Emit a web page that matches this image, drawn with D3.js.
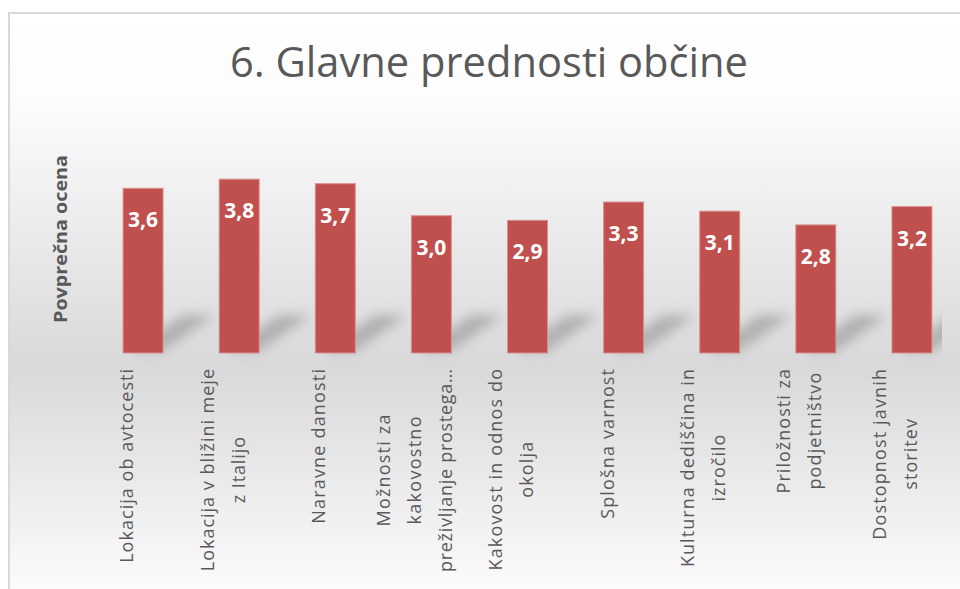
<!DOCTYPE html>
<html>
<head>
<meta charset="utf-8">
<script src="https://cdn.jsdelivr.net/npm/d3@7"></script>
<style>
  html, body { margin: 0; padding: 0; background: #ffffff; }
  svg { display: block; }
</style>
</head>
<body>
<svg id="chart" width="960" height="589"></svg>
<script>
const title = "6. Glavne prednosti občine";
const yAxisTitle = "Povprečna ocena";
const categories = [
  ["Lokacija ob avtocesti"],
  ["Lokacija v bližini meje", "z Italijo"],
  ["Naravne danosti"],
  ["Možnosti za", "kakovostno", "preživljanje prostega…"],
  ["Kakovost in odnos do", "okolja"],
  ["Splošna varnost"],
  ["Kulturna dediščina in", "izročilo"],
  ["Priložnosti  za", "podjetništvo"],
  ["Dostopnost javnih", "storitev"]
];
const values = [3.6, 3.8, 3.7, 3.0, 2.9, 3.3, 3.1, 2.8, 3.2];
const yDomain = [0, 4];

const W = 960, H = 589;
const svg = d3.select("#chart");
const defs = svg.append("defs");

const grad = defs.append("linearGradient")
  .attr("id", "bg").attr("x1", 0).attr("y1", 0).attr("x2", 0).attr("y2", 1);
[[0, "#ffffff"], [0.15, "#fcfcfc"], [0.59, "#d9d9d9"], [0.8, "#ececec"], [1, "#ffffff"]]
  .forEach(([o, c]) => grad.append("stop").attr("offset", o).attr("stop-color", c));

const blur = defs.append("filter").attr("id", "blur")
  .attr("x", "-50%").attr("y", "-50%").attr("width", "200%").attr("height", "200%");
blur.append("feGaussianBlur").attr("stdDeviation", 6);

defs.append("clipPath").attr("id", "plotClip")
  .append("rect").attr("x", 0).attr("y", 0).attr("width", 942).attr("height", H);

// chart area background + border
svg.append("rect")
  .attr("x", 9).attr("y", 13).attr("width", W + 10).attr("height", H + 10)
  .attr("fill", "url(#bg)")
  .attr("stroke", "#d9d9d9").attr("stroke-width", 2);

const x = d3.scaleBand()
  .domain(d3.range(categories.length))
  .range([95, 960])
  .paddingInner(0.584)
  .paddingOuter(0.292);

const y = d3.scaleLinear().domain(yDomain).range([353, 170]);

// title
svg.append("text")
  .attr("x", 489).attr("y", 77)
  .attr("text-anchor", "middle")
  .attr("font-family", "'Open Sans', sans-serif")
  .attr("font-size", 42)
  .attr("fill", "#595959")
  .attr("textLength", 518)
  .attr("lengthAdjust", "spacingAndGlyphs")
  .text(title);

// y axis title
svg.append("text")
  .attr("transform", "translate(67,239) rotate(-90)")
  .attr("text-anchor", "middle")
  .attr("font-family", "'Open Sans', sans-serif")
  .attr("font-weight", "bold")
  .attr("font-size", 17)
  .attr("fill", "#595959")
  .attr("textLength", 168)
  .attr("lengthAdjust", "spacingAndGlyphs")
  .text(yAxisTitle);

// shadows
const shadowG = svg.append("g").attr("clip-path", "url(#plotClip)");
shadowG.selectAll("polygon")
  .data(values)
  .join("polygon")
  .attr("points", (d, i) => {
    const x0 = x(i), x1 = x(i) + x.bandwidth(), b = y(0);
    return [[x0 + 8, b - 2], [x1, b - 2], [x1 + 52, b - 38], [x0 + 60, b - 38]]
      .map(p => p.join(",")).join(" ");
  })
  .attr("fill", "#8c8c8c")
  .attr("opacity", 0.55)
  .attr("filter", "url(#blur)");

// bars
svg.append("g").selectAll("rect")
  .data(values)
  .join("rect")
  .attr("x", (d, i) => x(i))
  .attr("y", d => y(d))
  .attr("width", x.bandwidth())
  .attr("height", d => y(0) - y(d))
  .attr("fill", "#c0504d")
  .attr("stroke", "#d8908e")
  .attr("stroke-width", 1);

// value labels
svg.append("g").selectAll("text")
  .data(values)
  .join("text")
  .attr("x", (d, i) => x(i) + x.bandwidth() / 2)
  .attr("y", d => y(d) + 39)
  .attr("text-anchor", "middle")
  .attr("font-family", "'Open Sans', sans-serif")
  .attr("font-weight", "bold")
  .attr("font-size", 21)
  .attr("fill", "#ffffff")
  .text(d => d3.format(".1f")(d).replace(".", ","));

// category labels (rotated, multi-line)
const fontSize = 18;
const lineGap = 31;
const labelTop = 369;
const maxLabelLen = 203;
const widen = 1.12;
const catG = svg.append("g")
  .attr("font-family", "'Open Sans', sans-serif")
  .attr("font-size", fontSize)
  .attr("fill", "#595959");

categories.forEach((lines, i) => {
  const cx = x(i) + x.bandwidth() / 2 - 17;
  const g = catG.append("g");
  const texts = lines.map((ln, j) => {
    const lx = cx + (j - (lines.length - 1) / 2) * lineGap;
    return g.append("text")
      .attr("text-anchor", "middle")
      .attr("dominant-baseline", "central")
      .attr("data-x", lx)
      .text(ln);
  });
  const lens = texts.map(t => Math.min(maxLabelLen, t.node().getComputedTextLength() * widen));
  texts.forEach((t, j) => {
    t.attr("textLength", lens[j]).attr("lengthAdjust", "spacing");
  });
  const cy = labelTop + d3.max(lens) / 2;
  texts.forEach(t => {
    const lx = +t.attr("data-x");
    t.attr("transform", `translate(${lx},${cy}) rotate(-90)`);
  });
});
</script>
</body>
</html>
